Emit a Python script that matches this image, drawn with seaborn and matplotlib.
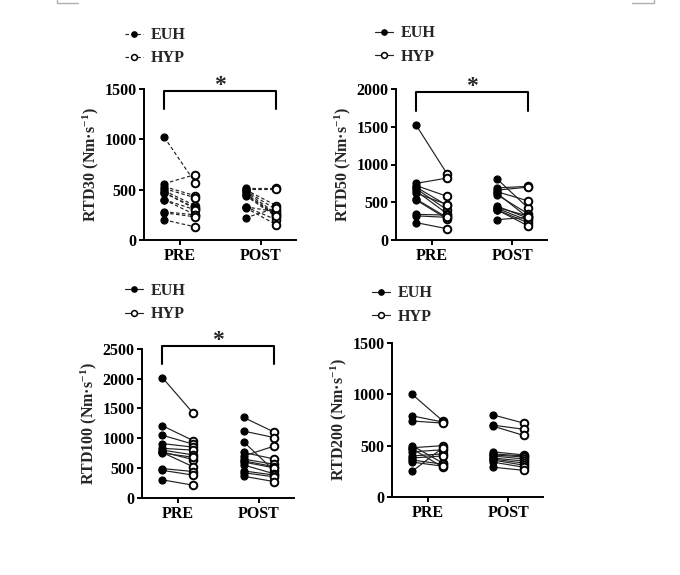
import numpy as np
import pandas as pd
import matplotlib
matplotlib.use("Agg")
import matplotlib.pyplot as plt
from matplotlib.lines import Line2D
import seaborn as sns

sns.set_style("ticks")

params = {'font.family': ['Liberation Serif', 'DejaVu Serif'],
          'font.weight': 'bold',
          'font.size': 11.5,
          'axes.labelweight': 'bold',
          'axes.labelsize': 11.5,
          'xtick.labelsize': 11.5,
          'ytick.labelsize': 11.5,
          'axes.linewidth': 1.4,
          'xtick.major.width': 1.4,
          'ytick.major.width': 1.4,
          'xtick.major.size': 3.5,
          'ytick.major.size': 3.5,
          'xtick.major.pad': 2.5,
          'ytick.major.pad': 2,
          'axes.edgecolor': 'black',
          'xtick.color': 'black',
          'ytick.color': 'black',
          'mathtext.fontset': 'custom',
          'mathtext.rm': 'Liberation Serif:bold',
          'mathtext.it': 'Liberation Serif:bold',
          'mathtext.bf': 'Liberation Serif:bold',
          'mathtext.default': 'rm'}
plt.rcParams.update(params)

times = ["PRE", "POST"]
groups = ["EUH", "HYP"]

# RTD30
rtd30_pre_euh = [1020, 560, 530, 510, 490, 470, 470, 400, 400, 280, 270, 200]
rtd30_pre_hyp = [570, 650, 440, 420, 340, 320, 310, 300, 250, 250, 230, 130]
rtd30_post_euh = [520, 510, 500, 490, 480, 460, 440, 330, 330, 320, 220, 450]
rtd30_post_hyp = [520, 510, 340, 300, 260, 250, 230, 200, 280, 150, 320, 240]

# RTD50
rtd50_pre_euh = [1520, 750, 720, 700, 680, 650, 620, 540, 530, 340, 320, 230]
rtd50_pre_hyp = [880, 820, 580, 460, 400, 350, 470, 300, 280, 330, 300, 150]
rtd50_post_euh = [810, 690, 660, 640, 620, 600, 450, 430, 420, 400, 400, 270]
rtd50_post_hyp = [430, 710, 700, 520, 300, 350, 290, 320, 260, 230, 190, 300]

# RTD100
rtd100_pre_euh = [2020, 1210, 1050, 910, 830, 800, 770, 760, 750, 490, 460, 300]
rtd100_pre_hyp = [1420, 960, 900, 850, 800, 720, 640, 520, 680, 440, 380, 210]
rtd100_post_euh = [1350, 1120, 940, 760, 700, 650, 620, 600, 550, 450, 420, 360]
rtd100_post_hyp = [1100, 1010, 450, 650, 870, 560, 520, 500, 400, 380, 350, 270]

# RTD200
rtd200_pre_euh = [1000, 790, 740, 500, 480, 470, 440, 400, 380, 360, 340, 250]
rtd200_pre_hyp = [740, 730, 720, 330, 500, 290, 460, 420, 400, 320, 300, 480]
rtd200_post_euh = [800, 700, 690, 440, 420, 410, 400, 380, 370, 360, 340, 290]
rtd200_post_hyp = [720, 660, 600, 410, 400, 390, 370, 350, 330, 310, 290, 260]

panels = [
    ("RTD30", [rtd30_pre_euh, rtd30_pre_hyp, rtd30_post_euh, rtd30_post_hyp],
     [0, 500, 1000, 1500], (1300, 1480)),
    ("RTD50", [rtd50_pre_euh, rtd50_pre_hyp, rtd50_post_euh, rtd50_post_hyp],
     [0, 500, 1000, 1500, 2000], (1710, 1965)),
    ("RTD100", [rtd100_pre_euh, rtd100_pre_hyp, rtd100_post_euh, rtd100_post_hyp],
     [0, 500, 1000, 1500, 2000, 2500], (2245, 2555)),
    ("RTD200", [rtd200_pre_euh, rtd200_pre_hyp, rtd200_post_euh, rtd200_post_hyp],
     [0, 500, 1000, 1500], None),
]

# axes rectangles in pixels: left, top, right, bottom
W, H = 680, 575
rects = [(144, 89, 296, 240), (396, 89, 547, 240),
         (142, 349, 294, 497.7), (392, 343, 543, 497)]
legend_pos = [(125, 46.7), (375, 45), (125, 302.5), (372, 305)]
offset = 0.19


def make_df(arrs):
    rows = []
    k = 0
    for ti, t in enumerate(times):
        for g in groups:
            vals = arrs[k]
            k += 1
            for s, v in enumerate(vals):
                rows.append({"subject": s, "time": t, "group": g,
                             "x": ti + (offset if g == "HYP" else -offset),
                             "value": v, "pair": f"{t}-{s}"})
    return pd.DataFrame(rows)


fig = plt.figure(figsize=(W / 100, H / 100), dpi=100)

for i, (name, arrs, yticks, bracket) in enumerate(panels):
    l, t, r, b = rects[i]
    ax = fig.add_axes([l / W, 1 - b / H, (r - l) / W, (b - t) / H])
    df = make_df(arrs)
    ls = (0, (3, 2)) if i == 0 else "-"
    sns.lineplot(data=df, x="x", y="value", units="pair", estimator=None,
                 color="#222222", lw=0.85, linestyle=ls, ax=ax, legend=False)
    sns.scatterplot(data=df[df.group == "EUH"], x="x", y="value", color="black",
                    edgecolor="black", s=26, linewidth=0.8, zorder=3, ax=ax, legend=False)
    sns.scatterplot(data=df[df.group == "HYP"], x="x", y="value", color="white",
                    edgecolor="black", s=30, linewidth=1.4, zorder=3, ax=ax, legend=False)
    ax.set_xlim(-0.44, 1.43)
    ax.set_ylim(0, yticks[-1])
    ax.set_yticks(yticks)
    ax.set_xticks([0, 1])
    ax.set_xticklabels(times)
    ax.set_xlabel("")
    ax.set_ylabel(name + r" (Nm·s$^{-1}$)", labelpad=2)
    sns.despine(ax=ax)
    for lab in ax.get_xticklabels() + ax.get_yticklabels():
        lab.set_fontweight("bold")

    if bracket is not None:
        y0, y1 = bracket
        ax.plot([-offset, -offset, 1 + offset, 1 + offset], [y0, y1, y1, y0],
                color="black", lw=1.5, clip_on=False)
        ax.text(0.5, y1 + yticks[-1] * 0.035, "*", ha="center", va="center",
                fontsize=17, fontweight="bold")

    handles = [Line2D([0], [0], color="#222222", lw=0.85, ls=ls, marker="o",
                      markersize=3.8, markerfacecolor="black", markeredgecolor="black"),
               Line2D([0], [0], color="#222222", lw=0.85, ls=ls, marker="o",
                      markersize=4.2, markerfacecolor="white", markeredgecolor="black",
                      markeredgewidth=1.1)]
    lx, ly = legend_pos[i]
    ax.legend(handles, groups, loc="center left", bbox_to_anchor=(lx / W, 1 - ly / H),
              bbox_transform=fig.transFigure, frameon=False, borderpad=0,
              borderaxespad=0, handlelength=1.1, handletextpad=0.5,
              labelspacing=0.45, prop={"weight": "bold", "size": 11.5})

# small corner marks at the top edge
for xs, ys in [([57, 57, 78], [0, 2.7, 2.7]), ([632, 654, 654], [2.7, 2.7, 0])]:
    fig.add_artist(Line2D([x / W for x in xs], [1 - y / H for y in ys],
                          color="#b0b0b0", lw=1.0, transform=fig.transFigure))

fig.savefig("out.png", dpi=100)
